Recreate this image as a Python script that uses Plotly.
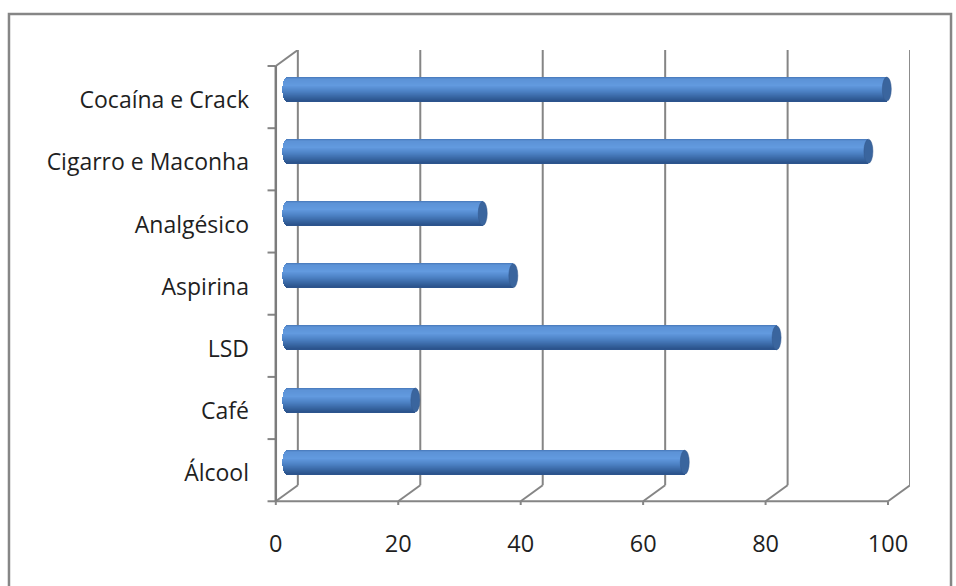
import plotly.graph_objects as go

# Data (bottom to top)
categories = ["Álcool", "Café", "LSD", "Aspirina", "Analgésico", "Cigarro e Maconha", "Cocaína e Crack"]
values = [65, 21, 80, 37, 32, 95, 98]
x_ticks = [0, 20, 40, 60, 80, 100]

# Pseudo-3D geometry in data units
DX = 3.6        # depth offset along x
DY = 0.2575     # depth offset along y
BAR_X0 = DX / 2  # bar sits midway in depth
BAR_DY = DY / 2
BAR_H = 0.386   # cylinder thickness
CAP_RX = 0.735  # half-width of elliptical end caps
X_MIN, X_MAX = -1.6, 103.59
Y_MIN, Y_MAX = -0.56, 6.5 + DY

GRID = "#858585"
TEXT = "#1f1f1f"
FONT = "Open Sans"

# vertical shading of the cylinder (top -> bottom)
stops = [(0.0, (0x46, 0x77, 0xb8)), (0.08, (0x5c, 0x92, 0xd6)), (0.35, (0x62, 0x9a, 0xdf)),
         (0.6, (0x4c, 0x81, 0xc4)), (0.85, (0x36, 0x63, 0x9f)), (1.0, (0x2a, 0x52, 0x8a))]


def shade(t):
    for (a, ca), (b, cb) in zip(stops[:-1], stops[1:]):
        if a <= t <= b:
            f = (t - a) / (b - a)
            c = [round(ca[i] + (cb[i] - ca[i]) * f) for i in range(3)]
            return "rgb(%d,%d,%d)" % tuple(c)
    return "rgb(42,82,138)"


fig = go.Figure()

N = 24
for k in range(N):
    t = (k + 0.5) / N            # 0 top, 1 bottom
    u = 2 * t - 1
    ys = [i + BAR_DY + BAR_H / 2 - t * BAR_H for i in range(len(categories))]
    round_off = CAP_RX * (1 - u * u) ** 0.5
    bases = [BAR_X0 - round_off for _ in values]
    lengths = [v + BAR_X0 - b for v, b in zip(values, bases)]
    fig.add_trace(go.Bar(
        orientation="h", y=ys, x=lengths, base=bases,
        width=BAR_H / N * 1.35, marker=dict(color=shade(t), line=dict(width=0)),
        hoverinfo="skip", showlegend=False,
    ))

line_style = dict(color=GRID, width=2)
shapes = []
# back-wall gridlines with their floor diagonals, plus value-axis ticks
for v in x_ticks:
    shapes.append(dict(type="line", xref="x", yref="y", x0=v, y0=-0.5, x1=v + DX, y1=-0.5 + DY,
                       line=line_style, layer="below"))
    shapes.append(dict(type="line", xref="x", yref="y", x0=v + DX, y0=-0.5 + DY, x1=v + DX, y1=6.5 + DY,
                       line=line_style, layer="below"))
    shapes.append(dict(type="line", xref="x", yref="y", x0=v, y0=-0.5, x1=v, y1=-0.5 - 0.13,
                       line=line_style, layer="below"))
# front axes and top diagonal of the category axis
shapes.append(dict(type="line", xref="x", yref="y", x0=0, y0=-0.5, x1=100, y1=-0.5,
                   line=line_style, layer="below"))
shapes.append(dict(type="line", xref="x", yref="y", x0=0, y0=-0.5, x1=0, y1=6.5,
                   line=dict(color="#7c7c7c", width=2.5), layer="above"))
shapes.append(dict(type="line", xref="x", yref="y", x0=0, y0=6.5, x1=DX, y1=6.5 + DY,
                   line=line_style, layer="below"))
# category separator ticks
for i in range(len(categories) + 1):
    shapes.append(dict(type="line", xref="x", yref="y", x0=-1.35, y0=i - 0.5, x1=0, y1=i - 0.5,
                       line=line_style, layer="below"))
# end caps
for i, v in enumerate(values):
    c = i + BAR_DY
    shapes.append(dict(type="circle", xref="x", yref="y",
                       x0=v + BAR_X0 - CAP_RX, x1=v + BAR_X0 + CAP_RX,
                       y0=c - BAR_H / 2, y1=c + BAR_H / 2,
                       fillcolor="#3a659e", line=dict(color="#34598c", width=0.5), layer="above"))
# chart frame
shapes.append(dict(type="rect", xref="paper", yref="paper", x0=-0.3991, x1=1.0637, y0=-0.21, y1=1.0791,
                   line=dict(color="#868686", width=2.5), fillcolor="rgba(0,0,0,0)", layer="below"))

fig.update_layout(
    width=956, height=586,
    margin=dict(l=266, r=46, t=50, b=81),
    paper_bgcolor="white", plot_bgcolor="white",
    barmode="overlay", bargap=0, showlegend=False,
    shapes=shapes,
    font=dict(family=FONT, color=TEXT),
    xaxis=dict(range=[X_MIN, X_MAX], tickvals=x_ticks, ticktext=[str(v) for v in x_ticks],
               showgrid=False, zeroline=False, showline=False, ticks="",
               ticklabelstandoff=22, tickfont=dict(size=23.5, family=FONT, color=TEXT)),
    yaxis=dict(range=[Y_MIN, Y_MAX], tickvals=[i - 0.05 for i in range(len(categories))],
               ticktext=categories,
               showgrid=False, zeroline=False, showline=False, ticks="",
               ticklabelstandoff=16, tickfont=dict(size=23, family=FONT, color=TEXT)),
)

fig.write_html("out.html")
